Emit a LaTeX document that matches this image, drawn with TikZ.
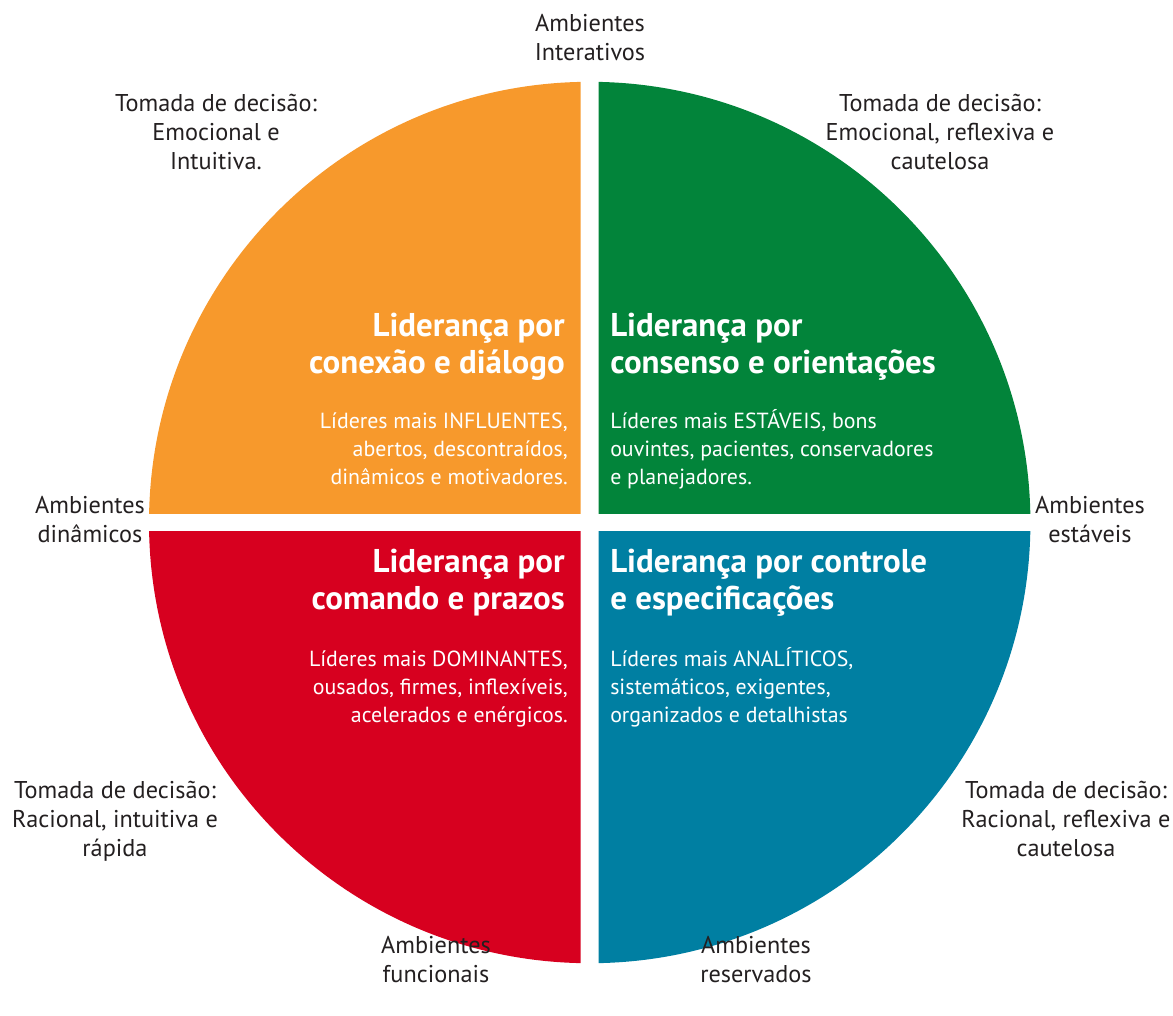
\documentclass[tikz,border=0pt]{standalone}
\usepackage{fontspec}
\setmainfont{PT Sans}
\definecolor{qorange}{HTML}{F7992C}
\definecolor{qgreen}{HTML}{02843A}
\definecolor{qred}{HTML}{D7001F}
\definecolor{qblue}{HTML}{007FA2}
\definecolor{ink}{HTML}{231F20}
% a block of lines whose reference point is the baseline of its first line
\newcommand\linesblock[2]{\begin{tabular}[t]{@{}#1@{}}#2\end{tabular}}
\begin{document}
\begin{tikzpicture}[x=0.75pt,y=-0.75pt,
  outer/.style={anchor=base, inner sep=0pt, text=ink,
    font=\fontsize{18.2}{21.75}\selectfont},
  head/.style={inner sep=0pt, text=white,
    font=\bfseries\fontsize{24.7}{27.75}\selectfont},
  body/.style={inner sep=0pt, text=white,
    font=\fontsize{16.4}{21}\selectfont}]
\useasboundingbox (0,0) rectangle (1173,1015);

% the disc, cut into four quadrants by a white cross
\coordinate (c) at (589.7,522.5);
\begin{scope}
  \clip (0,0) rectangle (580.7,513.5);
  \fill[qorange] (c) circle[radius=440.7];
\end{scope}
\begin{scope}
  \clip (598.7,0) rectangle (1173,513.5);
  \fill[qgreen] (c) circle[radius=440.7];
\end{scope}
\begin{scope}
  \clip (0,531.5) rectangle (580.7,1015);
  \fill[qred] (c) circle[radius=440.7];
\end{scope}
\begin{scope}
  \clip (598.7,531.5) rectangle (1173,1015);
  \fill[qblue] (c) circle[radius=440.7];
\end{scope}

% quadrant titles and descriptions
\node[head, anchor=base east] (h1) at (565,336)
  {\linesblock{r}{Liderança por\\conexão e diálogo}};
\node[body, anchor=base east] (b1) at (568,428)
  {\linesblock{r}{Líderes mais INFLUENTES,\\abertos, descontraídos,\\dinâmicos e motivadores.}};
\node[head, anchor=base west] (h2) at (610,336)
  {\linesblock{l}{Liderança por\\consenso e orientações}};
\node[body, anchor=base west] (b2) at (610,428)
  {\linesblock{l}{Líderes mais ESTÁVEIS, bons\\ouvintes, pacientes, conservadores\\e planejadores.}};
\node[head, anchor=base east] (h3) at (565,572)
  {\linesblock{r}{Liderança por\\comando e prazos}};
\node[body, anchor=base east] (b3) at (568,666)
  {\linesblock{r}{Líderes mais DOMINANTES,\\ousados, firmes, inflexíveis,\\acelerados e enérgicos.}};
\node[head, anchor=base west] (h4) at (610,572)
  {\linesblock{l}{Liderança por controle\\e especificações}};
\node[body, anchor=base west] (b4) at (610,666)
  {\linesblock{l}{Líderes mais ANALÍTICOS,\\sistemáticos, exigentes,\\organizados e detalhistas}};

% labels around the disc
\node[outer] (ambTop) at (590,31) {\linesblock{c}{Ambientes\\Interativos}};
\node[outer] (decTL) at (216,111) {\linesblock{c}{Tomada de decisão:\\Emocional e\\Intuitiva.}};
\node[outer] (decTR) at (940,111) {\linesblock{c}{Tomada de decisão:\\Emocional, reflexiva e\\cautelosa}};
\node[outer] (ambLeft) at (90,513) {\linesblock{c}{Ambientes\\dinâmicos}};
\node[outer] (ambRight) at (1090,513) {\linesblock{c}{Ambientes\\estáveis}};
\node[outer] (decBL) at (115,798) {\linesblock{c}{Tomada de decisão:\\Racional, intuitiva e\\rápida}};
\node[outer] (decBR) at (1066,798) {\linesblock{c}{Tomada de decisão:\\Racional, reflexiva e\\cautelosa}};
\node[outer] (ambBL) at (436,953) {\linesblock{c}{Ambientes\\funcionais}};
\node[outer] (ambBR) at (756,953) {\linesblock{c}{Ambientes\\reservados}};
\end{tikzpicture}
\end{document}
